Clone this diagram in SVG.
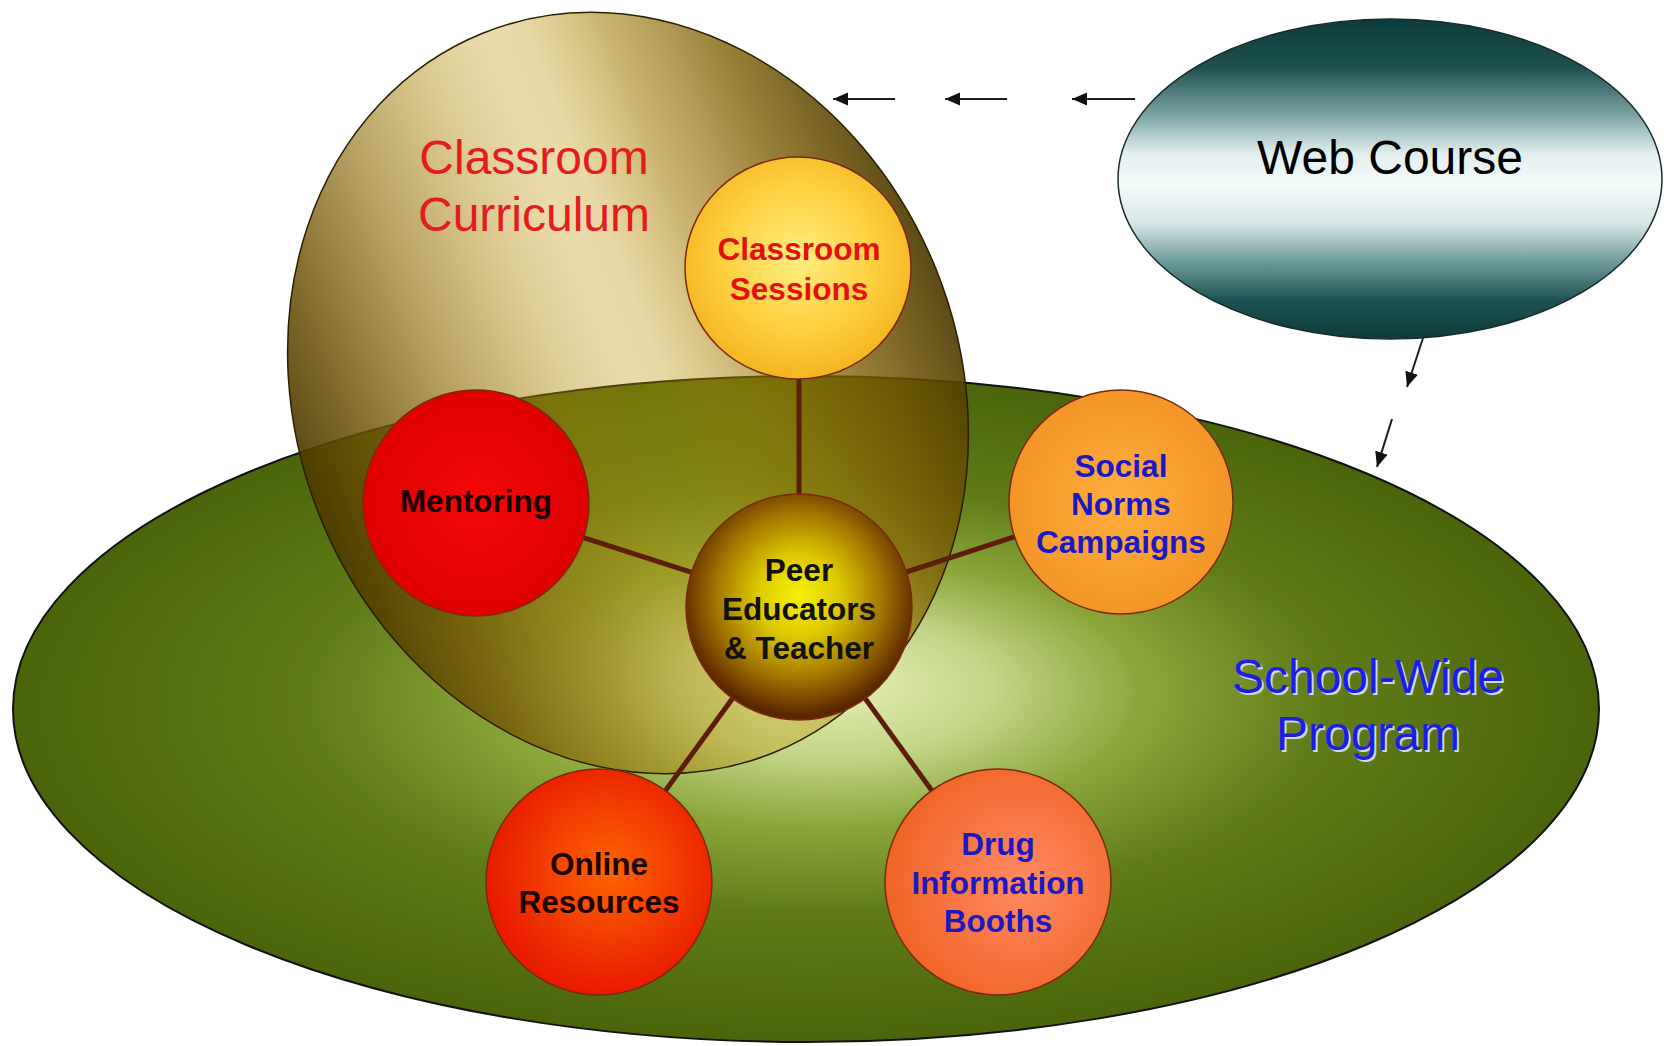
<svg xmlns="http://www.w3.org/2000/svg" width="1674" height="1046" viewBox="0 0 1674 1046">
<style>
  .lbl { font-family: "Liberation Sans", Arial, sans-serif; text-anchor: middle; }
  .big { font-size: 48px; }
  .node { font-size: 31.5px; font-weight: bold; }
  .spoke { stroke: #5e1c0c; stroke-width: 5; fill: none; }
  .arrow { stroke: #1e1e1e; stroke-width: 2; fill: none; marker-end: url(#ah); }
  .circ { stroke: #7a2a10; stroke-width: 1.5; }
</style>
<defs>
  <marker id="ah" markerUnits="userSpaceOnUse" markerWidth="16" markerHeight="14" refX="15" refY="6.5" orient="auto">
    <path d="M0,0 L15,6.5 L0,13 z" fill="#111"/>
  </marker>
  <radialGradient id="gGreen" cx="0.5" cy="0.5" r="0.5" fx="0.52" fy="0.46">
    <stop offset="0" stop-color="#e6efb4"/>
    <stop offset="0.2" stop-color="#c4d68a"/>
    <stop offset="0.4" stop-color="#8ca63a"/>
    <stop offset="0.64" stop-color="#607c18"/>
    <stop offset="1" stop-color="#4a640a"/>
  </radialGradient>
  <linearGradient id="gClass" x1="0" y1="0" x2="1" y2="0">
    <stop offset="0" stop-color="#4e3a00" stop-opacity="0.92"/>
    <stop offset="0.12" stop-color="#6e5206" stop-opacity="0.82"/>
    <stop offset="0.28" stop-color="#94700a" stop-opacity="0.6"/>
    <stop offset="0.42" stop-color="#b48a0a" stop-opacity="0.42"/>
    <stop offset="0.5" stop-color="#c19509" stop-opacity="0.34"/>
    <stop offset="0.56" stop-color="#c19509" stop-opacity="0.36"/>
    <stop offset="0.68" stop-color="#a07c08" stop-opacity="0.58"/>
    <stop offset="0.84" stop-color="#7a5c04" stop-opacity="0.8"/>
    <stop offset="1" stop-color="#4e3a00" stop-opacity="0.92"/>
  </linearGradient>
  <linearGradient id="gWeb" x1="0" y1="0" x2="0" y2="1">
    <stop offset="0" stop-color="#0c3c3c"/>
    <stop offset="0.15" stop-color="#1e5050"/>
    <stop offset="0.3" stop-color="#7aa4a4"/>
    <stop offset="0.42" stop-color="#e2eeee"/>
    <stop offset="0.52" stop-color="#f4fafa"/>
    <stop offset="0.64" stop-color="#d6e6e6"/>
    <stop offset="0.76" stop-color="#6c9a9a"/>
    <stop offset="0.88" stop-color="#1e5252"/>
    <stop offset="1" stop-color="#0c3c3c"/>
  </linearGradient>
  <radialGradient id="gYellow" cx="0.5" cy="0.45" r="0.55">
    <stop offset="0" stop-color="#ffee80"/>
    <stop offset="0.6" stop-color="#fdd040"/>
    <stop offset="1" stop-color="#f4b420"/>
  </radialGradient>
  <radialGradient id="gRed" cx="0.5" cy="0.5" r="0.55">
    <stop offset="0" stop-color="#f20808"/>
    <stop offset="1" stop-color="#dc0000"/>
  </radialGradient>
  <radialGradient id="gPeer" cx="0.5" cy="0.45" r="0.53">
    <stop offset="0" stop-color="#f8f200"/>
    <stop offset="0.35" stop-color="#dcc800"/>
    <stop offset="0.7" stop-color="#a07400"/>
    <stop offset="1" stop-color="#5a2600"/>
  </radialGradient>
  <radialGradient id="gOrange" cx="0.5" cy="0.5" r="0.55">
    <stop offset="0" stop-color="#ffb040"/>
    <stop offset="1" stop-color="#f29224"/>
  </radialGradient>
  <radialGradient id="gOnline" cx="0.55" cy="0.45" r="0.55">
    <stop offset="0" stop-color="#ff6400"/>
    <stop offset="1" stop-color="#e81a00"/>
  </radialGradient>
  <radialGradient id="gDrug" cx="0.6" cy="0.5" r="0.6">
    <stop offset="0" stop-color="#ff8a64"/>
    <stop offset="1" stop-color="#f06424"/>
  </radialGradient>
</defs>
<rect width="1674" height="1046" fill="#ffffff"/>

<g id="school-wide-program">
  <ellipse cx="806" cy="709" rx="793" ry="333" fill="url(#gGreen)" stroke="#111" stroke-width="2"/>
  <text class="lbl big" x="1370" y="695" fill="#d0d6ff">School-Wide</text>
  <text class="lbl big" x="1370" y="752" fill="#d0d6ff">Program</text>
  <text class="lbl big" x="1368" y="693" fill="#1e1ee0">School-Wide</text>
  <text class="lbl big" x="1368" y="750" fill="#1e1ee0">Program</text>
</g>

<g id="classroom-curriculum">
  <ellipse cx="628" cy="393" rx="332" ry="388" transform="rotate(-22 628 393)" fill="url(#gClass)" stroke="#2a2000" stroke-width="1.5"/>
  <text class="lbl big" x="534" y="174" fill="#e41c1c">Classroom</text>
  <text class="lbl big" x="534" y="231" fill="#e41c1c">Curriculum</text>
</g>

<g id="web-course">
  <ellipse cx="1390" cy="179" rx="272" ry="160" fill="url(#gWeb)" stroke="#1a2a2a" stroke-width="1.5"/>
  <text class="lbl big" x="1390" y="174" fill="#000">Web Course</text>
</g>

<g id="connectors">
  <line class="spoke" x1="799" y1="607" x2="799" y2="268"/>
  <line class="spoke" x1="799" y1="607" x2="476" y2="503"/>
  <line class="spoke" x1="799" y1="607" x2="1121" y2="502"/>
  <line class="spoke" x1="799" y1="607" x2="599" y2="882"/>
  <line class="spoke" x1="799" y1="607" x2="998" y2="882"/>
  <line class="arrow" x1="895" y1="99" x2="833" y2="99"/>
  <line class="arrow" x1="1007" y1="99" x2="945" y2="99"/>
  <line class="arrow" x1="1135" y1="99" x2="1072" y2="99"/>
  <line class="arrow" x1="1423" y1="338" x2="1407" y2="387"/>
  <line class="arrow" x1="1392" y1="419" x2="1377" y2="467"/>
</g>

<g id="classroom-sessions">
  <ellipse class="circ" cx="798" cy="268" rx="113" ry="111" fill="url(#gYellow)"/>
  <text class="lbl node" x="799" y="260" fill="#e41010">Classroom</text>
  <text class="lbl node" x="799" y="300" fill="#e41010">Sessions</text>
</g>

<g id="mentoring">
  <circle class="circ" cx="476" cy="503" r="113" fill="url(#gRed)"/>
  <text class="lbl node" x="476" y="512" fill="#1a0000">Mentoring</text>
</g>

<g id="peer-educators">
  <circle class="circ" cx="799" cy="607" r="113" fill="url(#gPeer)"/>
  <text class="lbl node" x="799" y="581" fill="#111">Peer</text>
  <text class="lbl node" x="799" y="620" fill="#111">Educators</text>
  <text class="lbl node" x="799" y="659" fill="#111">&amp; Teacher</text>
</g>

<g id="social-norms">
  <circle class="circ" cx="1121" cy="502" r="112" fill="url(#gOrange)"/>
  <text class="lbl node" x="1121" y="477" fill="#1c18c4">Social</text>
  <text class="lbl node" x="1121" y="515" fill="#1c18c4">Norms</text>
  <text class="lbl node" x="1121" y="553" fill="#1c18c4">Campaigns</text>
</g>

<g id="online-resources">
  <circle class="circ" cx="599" cy="882" r="113" fill="url(#gOnline)"/>
  <text class="lbl node" x="599" y="875" fill="#1a0000">Online</text>
  <text class="lbl node" x="599" y="913" fill="#1a0000">Resources</text>
</g>

<g id="drug-information-booths">
  <circle class="circ" cx="998" cy="882" r="113" fill="url(#gDrug)"/>
  <text class="lbl node" x="998" y="855" fill="#1c18c4">Drug</text>
  <text class="lbl node" x="998" y="894" fill="#1c18c4">Information</text>
  <text class="lbl node" x="998" y="932" fill="#1c18c4">Booths</text>
</g>
</svg>
